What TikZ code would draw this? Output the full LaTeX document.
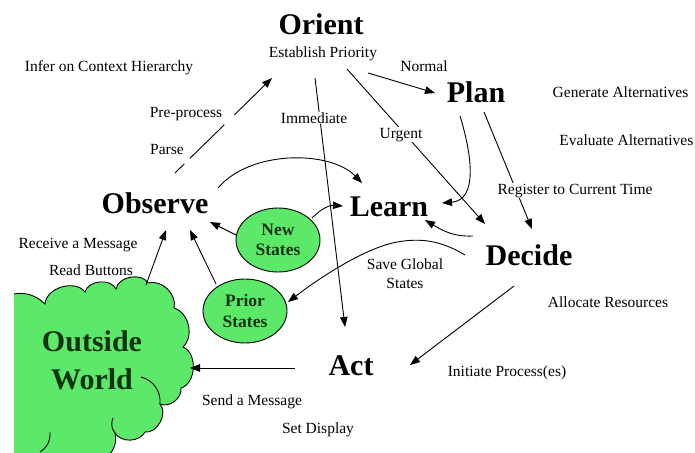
\documentclass[tikz,border=0pt]{standalone}
\usepackage{fontspec}
\setmainfont{Liberation Serif}
\usetikzlibrary{arrows.meta,shapes.geometric}
\definecolor{grn}{RGB}{92,232,104}
\definecolor{dgrn}{RGB}{15,50,15}
\begin{document}
\begin{tikzpicture}[x=1pt,y=-1pt,
  arr/.style={line width=0.9pt, -{Triangle[length=10pt,width=7.5pt]}},
  ln/.style={line width=0.9pt},
  lbl/.style={font=\fontsize{15.5}{18}\selectfont, inner sep=0.5pt, anchor=base},
  big/.style={font=\bfseries\fontsize{30}{36}\selectfont, inner sep=0pt, anchor=base},
  blob/.style={ellipse, draw=black, line width=0.9pt, fill=grn, minimum width=84pt, minimum height=64pt, inner sep=0pt, align=center, text=dgrn, font=\bfseries\fontsize{17.5}{20.5}\selectfont},
  wbg/.style={fill=white}]
\fill[white] (0,0) rectangle (695,452);
\path[use as bounding box] (0,0) rectangle (695,452);

% cloud
\begin{scope}
\clip (14,0) rectangle (695,452);
\draw[ln, fill=grn] (0,300) to[bend left=40] (45,304) to[bend left=70] (85,292)
  to[bend left=70] (116,289) to[bend left=70] (148,283) to[bend left=60] (174,308)
  to[bend left=60] (183,347) to[bend left=70] (181,388) to[bend left=60] (160,404)
  to[bend left=70] (145,432) to[bend left=60] (115,433) to[bend left=50] (95,462)
  -- (25,462) to[bend left=50] (10,438) -- cycle;
\draw[ln] (141,377) to[bend left=40] (160,404);
\draw[ln] (113,418) to[bend right=30] (115,433);
\draw[ln] (50,432) to[bend left=30] (40,452);
\end{scope}

% main nodes
\node[big] (orient) at (321,35) {Orient};
\node[big] (plan) at (476,102) {Plan};
\node[big] (learn) at (389,216) {Learn};
\node[big] (observe) at (155,213) {Observe};
\node[big] (decide) at (529,265) {Decide};
\node[big] (act) at (351,375) {Act};
\node[align=center, text=dgrn, font=\bfseries\fontsize{30}{38}\selectfont, inner sep=0pt] (world) at (92,360) {Outside\\World};
\node[blob] (new) at (278,240) {New\\States};
\node[blob] (prior) at (245,311) {Prior\\States};

% endpoints
\coordinate (a1) at (175,173); \coordinate (a2) at (272,78);
\coordinate (b1) at (368,73);  \coordinate (b2) at (435,93);
\coordinate (c1) at (347,69);  \coordinate (c2) at (485,224);
\coordinate (d1) at (315,78);  \coordinate (d2) at (345,327);
\coordinate (e1) at (460,116); \coordinate (e2) at (442,203);
\coordinate (f1) at (484,112); \coordinate (f2) at (532,229);
\coordinate (g1) at (473,236); \coordinate (g2) at (425,220);
\coordinate (h1) at (465,255); \coordinate (hm) at (397,242); \coordinate (h2) at (288,302);
\coordinate (i1) at (218,188); \coordinate (i2) at (362,183);
\coordinate (j1) at (312,218); \coordinate (j2) at (343,206);
\coordinate (k1) at (236,235); \coordinate (k2) at (210,222);
\coordinate (l1) at (216,284); \coordinate (l2) at (190,230);
\coordinate (m1) at (146,285); \coordinate (m2) at (166,230);
\coordinate (n1) at (295,368); \coordinate (n2) at (190,368);
\coordinate (o1) at (514,286); \coordinate (o2) at (410,365);

% connectors
\draw[arr, dash pattern=on 13pt off 8pt on 48pt off 14pt on 90pt] (a1) -- (a2);
\draw[arr] (b1) -- (b2);
\draw[arr] (c1) -- (c2);
\draw[arr] (d1) -- (d2);
\draw[arr] (e1) .. controls (472,155) and (478,200) .. (e2);
\draw[arr] (f1) -- (f2);
\draw[arr] (g1) .. controls (452,237) and (440,229) .. (g2);
\draw[ln] (h1) .. controls (440,240) and (420,238) .. (hm);
\draw[arr] (hm) .. controls (370,247) and (330,270) .. (h2);
\draw[arr] (i1) .. controls (250,150) and (330,150) .. (i2);
\draw[arr] (j1) .. controls (322,208) and (330,205) .. (j2);
\draw[arr] (k1) -- (k2);
\draw[arr] (l1) -- (l2);
\draw[arr] (m1) -- (m2);
\draw[arr] (n1) -- (n2);
\draw[arr] (o1) -- (o2);

% labels
\node[lbl] (t1) at (323,57) {Establish Priority};
\node[lbl] (t2) at (109,71) {Infer on Context Hierarchy};
\node[lbl] (t3) at (424,71) {Normal};
\node[lbl, anchor=base west] (t4) at (552,97) {Generate Alternatives};
\node[lbl, anchor=base east] (t5) at (694,145) {Evaluate Alternatives};
\node[lbl] (t6) at (186,117) {Pre-process};
\node[lbl, wbg] (t7) at (314,123) {Immediate};
\node[lbl, wbg] (t8) at (401,138) {Urgent};
\node[lbl] (t9) at (167,154) {Parse};
\node[lbl, wbg] (t10) at (575,194) {Register to Current Time};
\node[lbl] (t11) at (78,248) {Receive a Message};
\node[lbl] (t12) at (91,275) {Read Buttons};
\node[lbl] (t13) at (405,269) {Save Global};
\node[lbl] (t14) at (405,288) {States};
\node[lbl] (t15) at (608,307) {Allocate Resources};
\node[lbl] (t16) at (507,376) {Initiate Process(es)};
\node[lbl] (t17) at (252,405) {Send a Message};
\node[lbl] (t18) at (318,433) {Set Display};
\end{tikzpicture}
\end{document}
